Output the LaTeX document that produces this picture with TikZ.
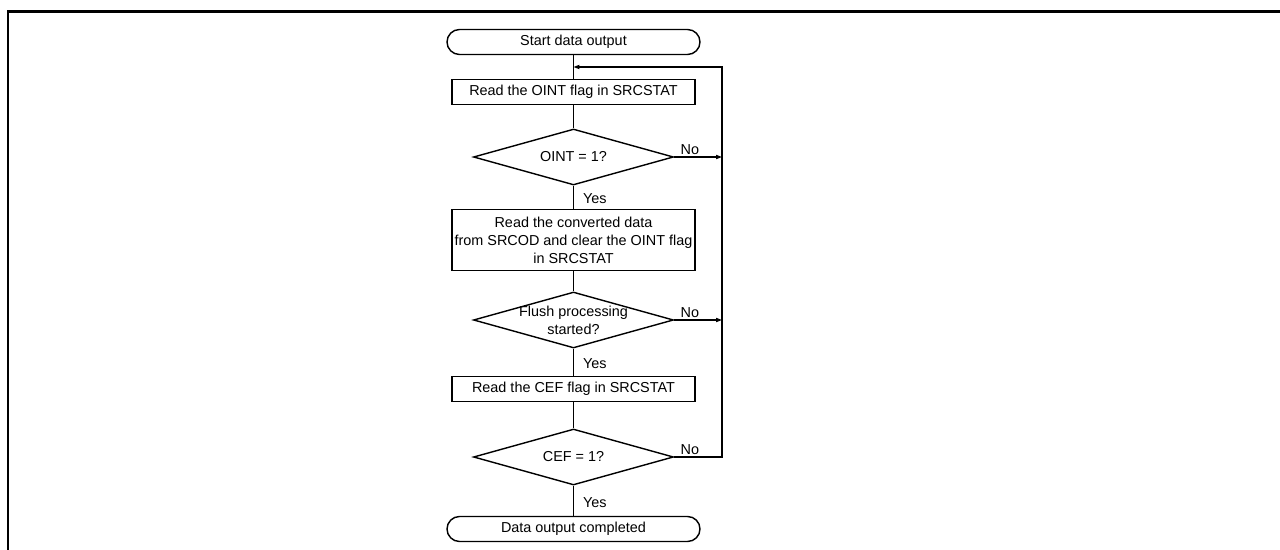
\documentclass[tikz,border=0pt]{standalone}
\usepackage{fontspec}
\setmainfont{Liberation Sans}
\usetikzlibrary{calc}
\usetikzlibrary{positioning}
\usetikzlibrary{shapes}
\usetikzlibrary{arrows.meta}

\begin{document}
\begin{tikzpicture}[
    line width=0.6pt,
    every node/.style={font=\fontsize{8.2}{10.2}\selectfont},
    terminal/.style={draw, line width=0.8pt, rectangle, rounded corners=0.25cm, minimum width=5.06cm, minimum height=0.5cm, inner sep=0pt},
    process/.style={draw, line width=0.8pt, rectangle, minimum width=4.86cm, minimum height=0.5cm, inner sep=1pt, align=center},
    decision/.style={draw, line width=0.8pt, diamond, minimum width=4cm, minimum height=1.12cm, inner sep=0pt},
    yeslabel/.style={pos=0.55, anchor=west, inner sep=0pt, xshift=0.18cm},
    nolabel/.style={pos=0, anchor=south west, inner sep=0pt, xshift=0.12cm, yshift=0.04cm},
    flow/.style={-{Triangle[length=3.4pt,width=2.4pt]}}
]

    % Constants
    \pgfmathsetmacro{\xc}{11.47}
    \pgfmathsetmacro{\xloop}{14.44}

    % Canvas and frame
    \useasboundingbox (0,0) rectangle (25.6,11);
    \draw [line width=1.7pt] (0.16,0) -- (0.16,10.76) -- (25.6,10.76);

    % Steps of the flow
    \node [terminal] (start) at (\xc,10.16) {Start data output};
    \node [process] (b1) at (\xc,9.16) {Read the OINT flag in SRCSTAT};
    \node [decision, label={center:OINT = 1?}] (d1) at (\xc,7.86) {};
    \node [process, minimum height=1.22cm] (b2) at (\xc,6.2) {Read the converted data\\from SRCOD and clear the OINT flag\\in SRCSTAT};
    \node [decision, label={[align=center]center:Flush processing\\started?}] (d2) at (\xc,4.6) {};
    \node [process] (b3) at (\xc,3.22) {Read the CEF flag in SRCSTAT};
    \node [decision, label={center:CEF = 1?}] (d3) at (\xc,1.86) {};
    \node [terminal] (end) at (\xc,0.42) {Data output completed};

    % Main path
    \draw (start) -- (b1);
    \draw (b1) -- (d1);
    \draw (d1) -- node [yeslabel] {Yes} (b2);
    \draw (b2) -- (d2);
    \draw (d2) -- node [yeslabel] {Yes} (b3);
    \draw (b3) -- (d3);
    \draw (d3) -- node [yeslabel] {Yes} (end);

    % Loop back
    \coordinate (join) at ($(start.south)!0.5!(b1.north)$);
    \coordinate (loop) at (\xloop,0);
    \draw [flow] (d1.east) -- node [nolabel] {No} (d1.east -| loop);
    \draw [flow] (d2.east) -- node [nolabel] {No} (d2.east -| loop);
    \draw [flow] (d3.east) -- node [nolabel] {No} (d3.east -| loop) -- (join -| loop) -- (join);

\end{tikzpicture}
\end{document}
